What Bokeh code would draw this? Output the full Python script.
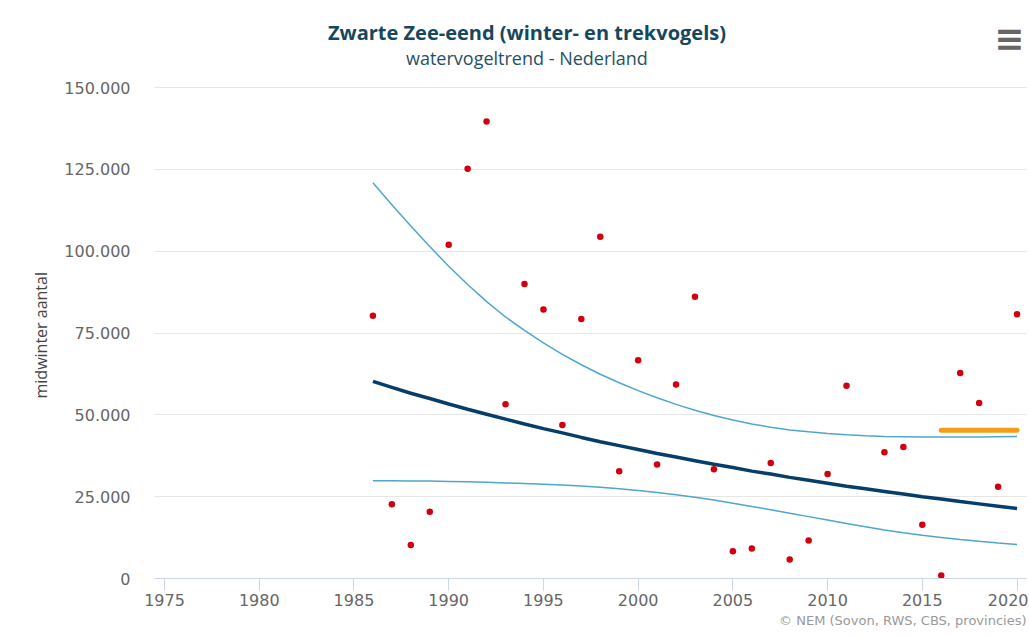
from bokeh.plotting import figure
from bokeh.models import FixedTicker, Title, Label, Range1d
from bokeh.embed import file_html
from bokeh.resources import INLINE

# ---- data ----
point_years = [1986, 1987, 1988, 1989, 1990, 1991, 1992, 1993, 1994, 1995,
               1996, 1997, 1998, 1999, 2000, 2001, 2002, 2003, 2004, 2005,
               2006, 2007, 2008, 2009, 2010, 2011, 2013, 2014, 2015, 2016,
               2017, 2018, 2019, 2020]
point_values = [80300, 22700, 10200, 20400, 102000, 125200, 139600, 53200, 90000, 82200,
                46900, 79300, 104400, 32800, 66700, 34800, 59300, 86100, 33400, 8300,
                9200, 35300, 5800, 11600, 31900, 58900, 38600, 40200, 16400, 900,
                62800, 53600, 28000, 80700]

trend_years = [1986, 1987, 1988, 1989, 1990, 1991, 1992, 1993, 1994, 1995,
               1996, 1997, 1998, 1999, 2000, 2001, 2002, 2003, 2004, 2005,
               2006, 2007, 2008, 2009, 2010, 2011, 2012, 2013, 2014, 2015,
               2016, 2017, 2018, 2019, 2020]
trend_values = [60200, 58400, 56600, 55000, 53300, 51700, 50200, 48700, 47200, 45800,
                44500, 43100, 41800, 40600, 39400, 38200, 37100, 36000, 34900, 33900,
                32800, 31900, 30900, 30000, 29100, 28200, 27400, 26600, 25800, 25000,
                24300, 23500, 22800, 22100, 21400]
upper_values = [120900, 114200, 107700, 101400, 95400, 89800, 84600, 79900, 75800, 72000,
                68500, 65300, 62400, 59800, 57400, 55200, 53200, 51400, 49800, 48400,
                47200, 46200, 45400, 44800, 44300, 43900, 43600, 43400, 43300, 43200,
                43200, 43200, 43200, 43300, 43400]
lower_values = [29900, 29850, 29800, 29750, 29650, 29550, 29400, 29200, 29000, 28800,
                28550, 28250, 27900, 27450, 26900, 26300, 25600, 24800, 23950, 23000,
                22000, 21000, 19950, 18900, 17850, 16800, 15800, 14850, 14000, 13200,
                12500, 11900, 11350, 10850, 10400]

recent_years = [2016, 2020]
recent_values = [45300, 45300]

x_ticks = [1975, 1980, 1985, 1990, 1995, 2000, 2005, 2010, 2015, 2020]
y_ticks = [0, 25000, 50000, 75000, 100000, 125000, 150000]
y_tick_labels = ["0", "25.000", "50.000", "75.000", "100.000", "125.000", "150.000"]

title_text = "Zwarte Zee-eend (winter- en trekvogels)"
subtitle_text = "watervogeltrend - Nederland"
credits_text = "\u00a9 NEM (Sovon, RWS, CBS, provincies)"
y_label = "midwinter aantal"
menu_text = "\u2261"

# ---- figure ----
# the frame reaches up into the header band so the header texts and the menu
# glyph can be drawn as labels; the value axis itself ends at 150.000
p = figure(width=1028, height=634,
           x_range=Range1d(1974.47, 2020.5), y_range=Range1d(0, 172000),
           output_backend="svg", toolbar_location=None,
           min_border_left=154, min_border_right=2, min_border_top=15, min_border_bottom=56,
           background_fill_color="white", border_fill_color="white")
p.outline_line_color = None

# header texts
p.add_layout(Label(x=1994.13, y=166800, text=title_text, text_align="center",
                   text_baseline="middle", text_font="Open Sans", text_font_size="20px",
                   text_font_style="bold", text_color="#17475a"))
p.add_layout(Label(x=1994.13, y=158900, text=subtitle_text, text_align="center",
                   text_baseline="middle", text_font="Open Sans", text_font_size="18px",
                   text_color="#27505f"))
p.add_layout(Label(x=2019.6, y=164900, text=menu_text, text_align="center",
                   text_baseline="middle", text_font="DejaVu Sans", text_font_size="36px",
                   text_font_style="bold", text_color="#666666"))

# value-axis title, placed along the left side
ylab = Title(text=y_label, align="left", offset=180, standoff=19,
             text_font="Open Sans", text_font_size="16px", text_font_style="normal",
             text_color="#444444")
p.add_layout(ylab, "left")

cred = Title(text=credits_text, align="right", text_font="DejaVu Sans",
             text_font_size="13px", text_font_style="normal", text_color="#999999",
             standoff=4)
p.add_layout(cred, "below")

# grid
p.xgrid.grid_line_color = None
p.ygrid.grid_line_color = "#e6e6e6"
p.ygrid.grid_line_width = 1

# axes
p.xaxis.ticker = FixedTicker(ticks=x_ticks)
p.xaxis.axis_line_color = "#ccd6eb"
p.xaxis.major_tick_line_color = "#ccd6eb"
p.xaxis.major_tick_out = 12
p.xaxis.major_tick_in = 0
p.xaxis.minor_tick_line_color = None
p.xaxis.major_label_text_font = "DejaVu Sans"
p.xaxis.major_label_text_font_size = "16px"
p.xaxis.major_label_text_color = "#666666"
p.xaxis.major_label_standoff = 3

p.yaxis.ticker = FixedTicker(ticks=y_ticks)
p.yaxis.major_label_overrides = {t: l for t, l in zip(y_ticks, y_tick_labels)}
p.yaxis.axis_line_color = None
p.yaxis.major_tick_line_color = None
p.yaxis.major_tick_out = 0
p.yaxis.major_tick_in = 0
p.yaxis.minor_tick_line_color = None
p.yaxis.minor_tick_out = 0
p.yaxis.major_label_text_font = "DejaVu Sans"
p.yaxis.major_label_text_font_size = "16px"
p.yaxis.major_label_text_color = "#666666"
p.yaxis.major_label_standoff = 24

# series
p.line(trend_years, upper_values, line_color="#4ea6cd", line_width=1.5)
p.line(trend_years, lower_values, line_color="#4ea6cd", line_width=1.5)
p.line(trend_years, trend_values, line_color="#063e6b", line_width=3.5)
p.line(recent_years, recent_values, line_color="#f39c17", line_width=5, line_cap="round")
p.scatter(point_years, point_values, size=6.5, fill_color="#d2000f", line_color=None)

open("out.html", "w").write(file_html(p, INLINE))
